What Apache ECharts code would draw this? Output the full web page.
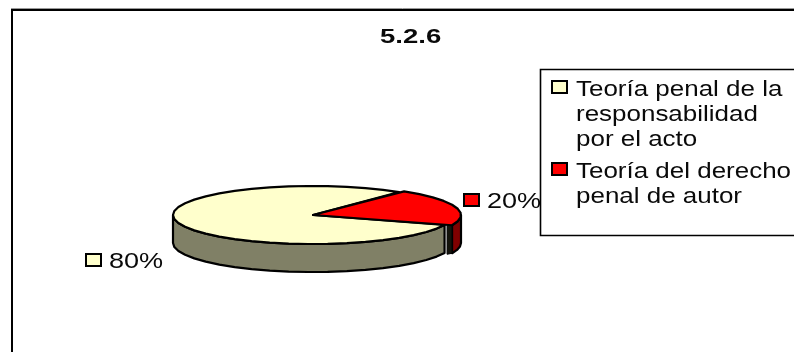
<!DOCTYPE html>
<html>
<head>
<meta charset="utf-8">
<style>html,body{margin:0;padding:0;background:#fff}#c{width:794px;height:352px}</style>
<script src="https://cdn.jsdelivr.net/npm/echarts@6/dist/echarts.min.js"></script>
</head>
<body>
<div id="c"></div>
<script>
const chartTitle = '5.2.6';
const categories = ['Teoría penal de la\nresponsabilidad\npor el acto', 'Teoría del derecho\npenal de autor'];
const shares = [80, 20];
const topColors = ['#ffffcc', '#ff0000'];
const sideColors = ['#808066', '#800000'];

// Flattened disc geometry; the red slice sits slightly proud of the rest
const disc = {cx: 313, cy: 215, rx: [140, 148], ry: [29, 30], depth: 28, startDeg: 52};
const total = shares.reduce((a, b) => a + b, 0);
const FONT = '"Liberation Sans", Arial, sans-serif';

function sweepRange(i) {
  const redSweep = shares[1] / total * 360;
  return i === 1 ? [disc.startDeg, disc.startDeg - redSweep]
                 : [disc.startDeg - redSweep, disc.startDeg - 360];
}
function onRim(i, deg, dy) {
  const r = deg * Math.PI / 180;
  return [disc.cx + disc.rx[i] * Math.cos(r), disc.cy - disc.ry[i] * Math.sin(r) + (dy || 0)];
}
function arcPoints(i, a, b, dy) {
  // Coarse steps give the rim its faceted outline
  const n = Math.max(2, Math.ceil(Math.abs(a - b) / 8));
  const pts = [];
  for (let k = 0; k <= n; k++) pts.push(onRim(i, a + (b - a) * k / n, dy));
  return pts;
}
const outline = {stroke: '#000', lineWidth: 2.2, lineJoin: 'round'};

function stretchedText(x, y, text, size, weight, lineHeight, stretch) {
  return {
    type: 'text', x, y, scaleX: stretch, originX: 0, z: 5,
    style: {x: 0, y: 0, text, fill: '#0a0a0a', verticalAlign: 'top', lineHeight,
      font: (weight ? weight + ' ' : '') + size + 'px ' + FONT}
  };
}
function keySquare(x, y, color) {
  return {type: 'rect', z: 5, shape: {x, y, width: 15, height: 12},
    style: {fill: color, stroke: '#000', lineWidth: 2}};
}

function renderSlice(params) {
  const i = params.seriesIndex;
  const [a, b] = sweepRange(i);
  const children = [];
  // Outer wall: only the part of the rim that faces the viewer
  const from = Math.min(a, 0), to = Math.max(b, -180);
  if (from > to) {
    children.push({type: 'polygon',
      shape: {points: arcPoints(i, from, to, 0).concat(arcPoints(i, to, from, disc.depth))},
      style: Object.assign({fill: sideColors[i]}, outline)});
  }
  // Cut face showing at the red slice's lower edge
  if (i === 1) {
    const p = onRim(1, b);
    children.push({type: 'polygon',
      shape: {points: [[p[0] - 5, p[1]], p, [p[0], p[1] + disc.depth], [p[0] - 5, p[1] + disc.depth + 1]]},
      style: {fill: '#14140c', stroke: '#000', lineWidth: 1}});
  }
  // Upper face
  children.push({type: 'polygon',
    shape: {points: [[disc.cx, disc.cy]].concat(arcPoints(i, a, b, 0))},
    style: Object.assign({fill: topColors[i]}, outline)});
  // Value key and value text beside the slice
  const anchor = i === 1 ? [464, 194] : [86, 254];
  children.push(keySquare(anchor[0], anchor[1], topColors[i]));
  children.push(stretchedText(anchor[0] + 23, anchor[1] - 3, shares[i] + '%', 22, '', 22, 1.23));
  return {type: 'group', children};
}

// Legend rows, each led by its colour key
const legendTops = [77, 159];
const legendGraphics = categories.flatMap((name, i) => [
  keySquare(552, legendTops[i] + 4, topColors[i]),
  stretchedText(576, legendTops[i], name, 22, '', 25, 1.18)
]);

const chart = echarts.init(document.getElementById('c'), null, {renderer: 'canvas'});
chart.setOption({
  animation: false,
  backgroundColor: '#fff',
  graphic: [
    {type: 'line', z: -2, shape: {x1: 11, y1: 8.5, x2: 794, y2: 8.5}, style: {stroke: '#999', lineWidth: 1}},
    {type: 'rect', z: -1, shape: {x: 12, y: 10, width: 800, height: 360},
      style: {fill: '#fff', stroke: '#000', lineWidth: 2}},
    stretchedText(380, 26.5, chartTitle, 21, 'bold', 21, 1.31),
    {type: 'rect', z: 4, shape: {x: 540.5, y: 69.5, width: 270, height: 166},
      style: {fill: '#fff', stroke: '#000', lineWidth: 1.6}},
    ...legendGraphics
  ],
  series: categories.map((name, i) => ({
    type: 'custom', name, coordinateSystem: 'none', z: 3,
    data: [shares[i]],
    renderItem: renderSlice
  }))
});
</script>
</body>
</html>
